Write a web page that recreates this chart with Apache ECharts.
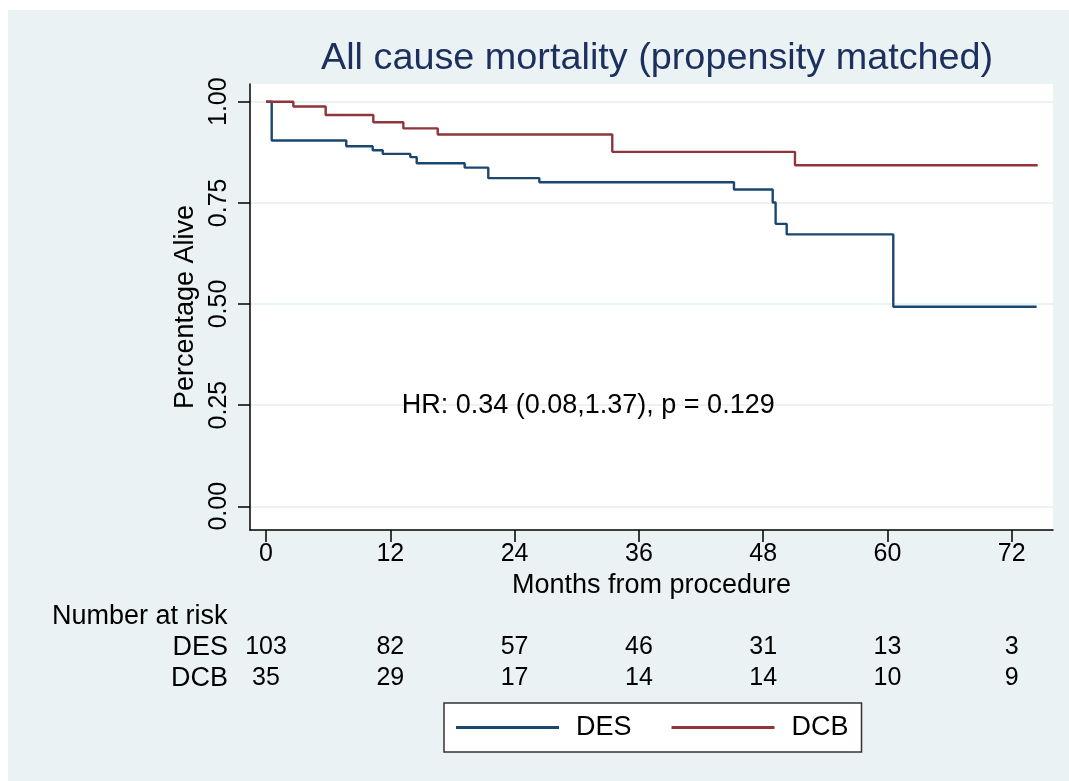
<!DOCTYPE html>
<html>
<head>
<meta charset="utf-8">
<title>All cause mortality</title>
<script src="https://cdn.jsdelivr.net/npm/echarts@6/dist/echarts.min.js"></script>
<style>
    html,body{margin:0;padding:0;background:#fff;}
    #chart{position:absolute;left:8px;top:10px;width:1061px;height:771px;}
</style>
</head>
<body>
<div id="chart"></div>
<script>
    // KM 曲线数据 (月, 生存率)
    var desTime = [0, 0.55, 7.75, 10.3, 11.27, 13.93, 14.55, 19.18, 21.46, 26.39, 45.18, 48.92, 49.2, 50.27, 60.56, 74.4];
    var desSurv = [1.0, 0.904, 0.890, 0.880, 0.871, 0.863, 0.848, 0.837, 0.811, 0.801, 0.783, 0.751, 0.698, 0.672, 0.493, 0.493];
    var dcbTime = [0, 2.64, 5.76, 10.36, 13.26, 16.58, 33.43, 51.07, 74.5];
    var dcbSurv = [1.0, 0.988, 0.967, 0.949, 0.934, 0.919, 0.876, 0.843, 0.843];

    // 坐标刻度
    var xTicks = [0, 12, 24, 36, 48, 60, 72];
    var yTicks = [0, 0.25, 0.5, 0.75, 1];

    // number at risk
    var riskGroups = ['DES', 'DCB'];
    var desRisk = [103, 82, 57, 46, 31, 13, 3];
    var dcbRisk = [35, 29, 17, 14, 14, 10, 9];

    var hrText = 'HR: 0.34 (0.08,1.37), p = 0.129';
    var hrPos = [13.1, 0.25];

    var FONT = 'Liberation Sans, Arial, sans-serif';
    var BLUE = '#1a476f', RED = '#90353b', BG = '#eaf2f3';

    function zip(xs, ys){
        var out = [];
        for (var i = 0; i < xs.length; i++) out.push([xs[i], ys[i]]);
        return out;
    }

    var riskData = [];
    for (var i = 0; i < xTicks.length; i++) {
        riskData.push([xTicks[i], 'DES', desRisk[i]]);
        riskData.push([xTicks[i], 'DCB', dcbRisk[i]]);
    }

    var option = {
        backgroundColor: BG,
        animation: false,
        textStyle: {fontFamily: FONT},
        title: [{
            text: 'All cause mortality (propensity matched)',
            left: 313, top: 30, padding: 0,
            textStyle: {fontSize: 37.8, fontWeight: 'normal', color: '#1c2f5e', fontFamily: FONT}
        }, {
            text: 'Number at risk',
            left: 44, top: 593, padding: 0,
            textStyle: {fontSize: 27, fontWeight: 'normal', color: '#000', fontFamily: FONT}
        }],
        legend: {
            data: ['DES', 'DCB'],
            left: 436, top: 693,
            padding: [11, 13, 11, 12],
            itemWidth: 103, itemHeight: 3, itemGap: 40,
            icon: 'rect',
            backgroundColor: '#fff',
            borderColor: '#333', borderWidth: 1.5, borderRadius: 0,
            textStyle: {fontSize: 27, color: '#000', fontFamily: FONT, padding: [0, 0, 0, 12]}
        },
        grid: [{
            left: 242, right: 16, top: 74, bottom: 251,
            show: true, backgroundColor: '#fff', borderWidth: 0
        }, {
            left: 242, right: 16, top: 622, height: 62
        }],
        xAxis: [{
            type: 'value', gridIndex: 0,
            min: -1.545, max: 75.98,
            name: 'Months from procedure', nameLocation: 'middle', nameGap: 31,
            nameTextStyle: {fontSize: 27, color: '#000', fontFamily: FONT},
            axisLine: {show: true, onZero: false, lineStyle: {color: '#000', width: 1.5}},
            axisTick: {show: true, length: 12, customValues: xTicks, lineStyle: {color: '#000', width: 1.5}},
            axisLabel: {customValues: xTicks, fontSize: 25, color: '#000', margin: 12, fontFamily: FONT},
            splitLine: {show: false}
        }, {
            type: 'value', gridIndex: 1,
            min: -1.545, max: 75.98, show: false
        }],
        yAxis: [{
            type: 'value', gridIndex: 0,
            min: -0.0586, max: 1.0437,
            name: 'Percentage Alive', nameLocation: 'middle', nameGap: 41, nameRotate: 90,
            nameTextStyle: {fontSize: 27, color: '#000', fontFamily: FONT},
            axisLine: {show: true, onZero: false, lineStyle: {color: '#000', width: 1.5}},
            axisTick: {show: true, length: 12, customValues: yTicks, lineStyle: {color: '#000', width: 1.5}},
            axisLabel: {
                customValues: yTicks, rotate: 90, fontSize: 25, color: '#000', margin: 18, fontFamily: FONT,
                formatter: function (v) { return v.toFixed(2); }
            },
            splitLine: {show: true, lineStyle: {color: BG, width: 2}}
        }, {
            type: 'category', gridIndex: 1,
            data: riskGroups, inverse: true,
            axisLine: {show: false}, axisTick: {show: false},
            axisLabel: {interval: 0, fontSize: 27, color: '#000', margin: 22, fontFamily: FONT},
            splitLine: {show: false}
        }],
        series: [{
            name: 'DES', type: 'line', step: 'end',
            xAxisIndex: 0, yAxisIndex: 0,
            data: zip(desTime, desSurv),
            showSymbol: false, symbol: 'none',
            lineStyle: {color: BLUE, width: 2.4},
            itemStyle: {color: BLUE}
        }, {
            name: 'DCB', type: 'line', step: 'end',
            xAxisIndex: 0, yAxisIndex: 0,
            data: zip(dcbTime, dcbSurv),
            showSymbol: false, symbol: 'none',
            lineStyle: {color: RED, width: 2.4},
            itemStyle: {color: RED}
        }, {
            name: 'hr', type: 'scatter',
            xAxisIndex: 0, yAxisIndex: 0,
            data: [hrPos], symbolSize: 0, silent: true,
            itemStyle: {opacity: 1},
            label: {
                show: true, position: 'right', distance: 0, opacity: 1,
                formatter: hrText, fontSize: 27, color: '#000', fontFamily: FONT
            }
        }, {
            name: 'risk', type: 'scatter',
            xAxisIndex: 1, yAxisIndex: 1,
            data: riskData, symbolSize: 0, silent: true,
            itemStyle: {opacity: 1},
            label: {
                show: true, position: 'inside', opacity: 1, fontSize: 25, color: '#000', fontFamily: FONT,
                formatter: function (p) { return String(p.value[2]); }
            }
        }]
    };

    var myChart = echarts.init(document.getElementById('chart'));
    myChart.setOption(option);
</script>
</body>
</html>
